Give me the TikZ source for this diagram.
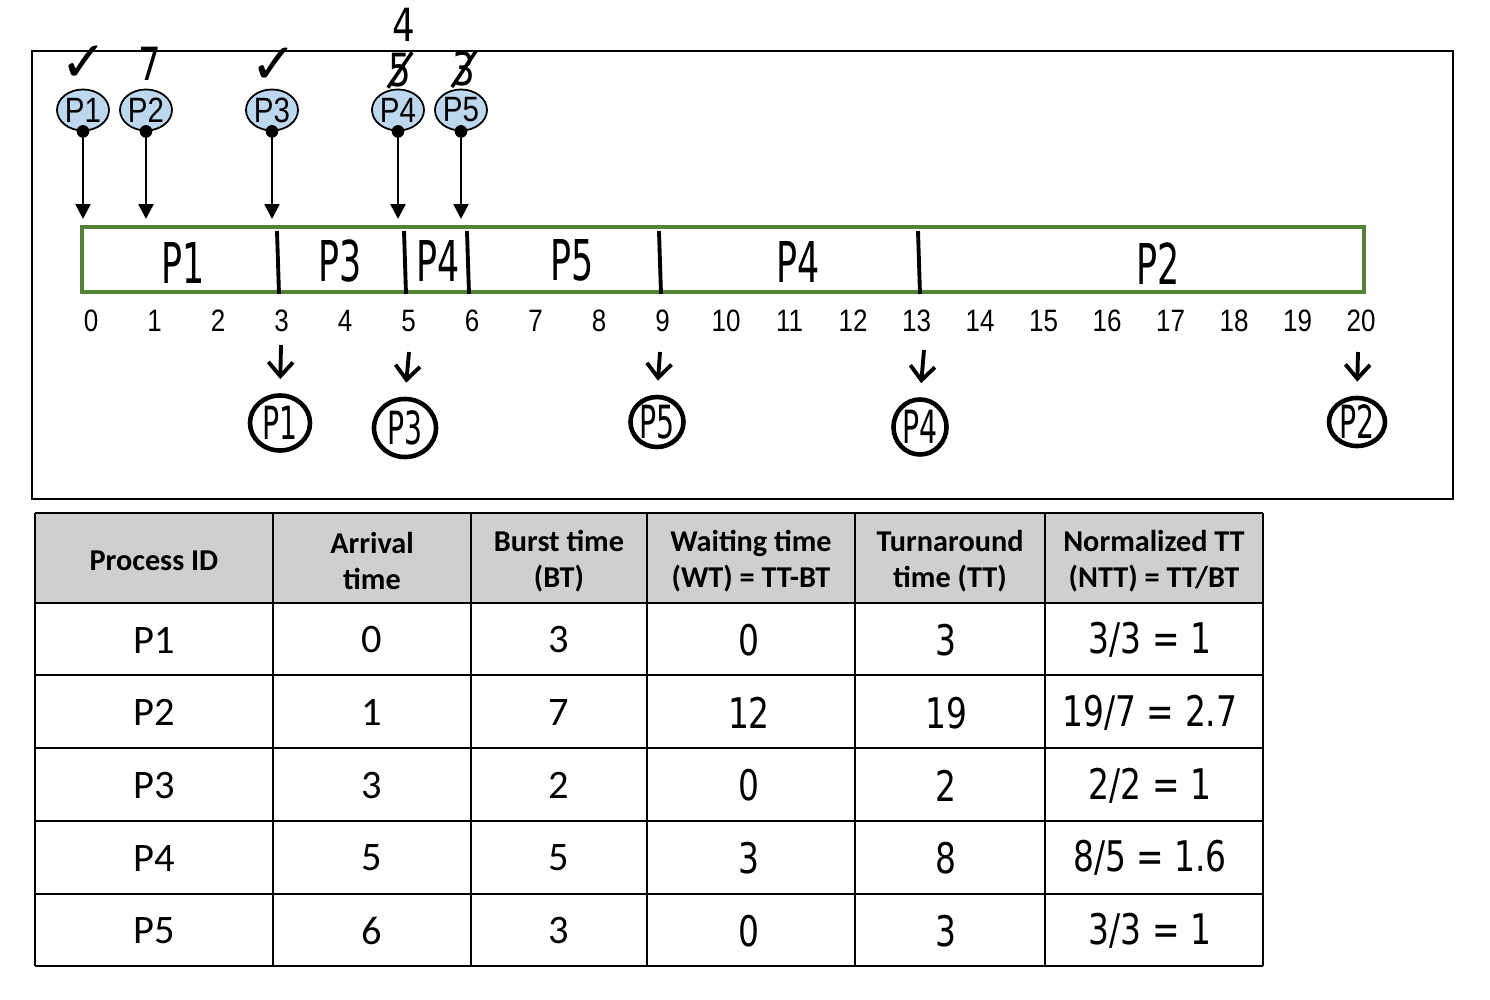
\documentclass[tikz,border=0pt]{standalone}
\usepackage{fontspec}
\setmainfont{Carlito}
\newfontfamily\arialfont{Liberation Sans}[FakeStretch=0.84]
\newfontfamily\handfont{DejaVu Sans}[FakeStretch=0.78]
\newfontfamily\narrowhand{DejaVu Sans}[FakeStretch=0.62]
\newfontfamily\symfont{DejaVu Sans}
\usetikzlibrary{calc,shapes,arrows,arrows.meta}
\definecolor{procblue}{HTML}{BDD7EE}
\definecolor{bargreen}{HTML}{548235}
\definecolor{headgray}{HTML}{D0CECE}

\begin{document}
\begin{tikzpicture}[x=0.01cm,y=-0.01cm,
    proc/.style={ellipse,draw,line width=0.5pt,fill=procblue,minimum width=0.52cm,
      minimum height=0.41cm,inner sep=0pt,font=\arialfont\fontsize{10}{10}\selectfont},
    hand/.style={font=\handfont\fontsize{13}{13}\selectfont,inner sep=0pt},
    slot/.style={font=\narrowhand\fontsize{16}{16}\selectfont,inner sep=0pt},
    handsmall/.style={font=\handfont\fontsize{12}{12}\selectfont,inner sep=1pt},
    done/.style={ellipse,draw,line width=1.3pt,minimum width=0.58cm,minimum height=0.53cm,
      inner sep=0pt,font=\narrowhand\fontsize{13}{13}\selectfont},
    head/.style={font=\bfseries\fontsize{8.6}{10.2}\selectfont,align=center},
    cell/.style={font=\fontsize{11.5}{11.5}\selectfont}]
  \useasboundingbox (0,0) rectangle (1490,1000);

  % frame of the timeline
  \draw[line width=0.6pt] (32,51) rectangle (1453,499);

  % arriving processes
  \foreach \n/\t in {1/0, 2/1, 3/3, 4/5, 5/6}
  {
    \node[proc] (p\n) at ({83+63*\t},110) {P\n};
    \coordinate (a\n) at ({83+63*\t},219);
    \draw[line width=0.7pt,-{Triangle[length=4.2pt,width=4.2pt]}] (p\n.south) -- (a\n);
    \fill (p\n.south) circle (1.8pt);
  }

  % remarks above the processes
  \node[font=\symfont\fontsize{16}{16}\selectfont,inner sep=0pt] (ok1) at (84,64) {✓};
  \node[font=\symfont\fontsize{16}{16}\selectfont,inner sep=0pt] (ok3) at (274,66) {✓};
  \node[hand] (r2) at (150,64) {7};
  \node[hand] (r4) at (400,70) {5};
  \draw[line width=1pt] (r4.south west) -- (r4.north east);
  \node[hand] (r4b) at (404,25) {4};
  \node[hand] (r5) at (464,69) {3};
  \draw[line width=1pt] (r5.south west) -- (r5.north east);

  % gantt chart
  \draw[bargreen,line width=0.9pt] (82,227) rectangle (1364,292);
  \foreach \x in {277, 404, 467, 659, 918}
    \draw[line width=1.1pt] (\x,231) -- (\x+2,294);
  \node[slot] (g1) at (183,263) {P1};
  \node[slot] (g3) at (340,261) {P3};
  \node[slot] (g4) at (438,261) {P4};
  \node[slot] (g5) at (572,260) {P5};
  \node[slot] (g4b) at (798,262) {P4};
  \node[slot] (g2) at (1158,264) {P2};

  \foreach \i in {0,...,20}
    \node[font=\arialfont\fontsize{8.8}{8.8}\selectfont] (t\i) at ({91+63.5*\i},321) {\i};

  % finished processes
  \node[done,minimum width=0.6cm,minimum height=0.55cm] (f1) at (280,423) {P1};
  \node[done,minimum width=0.62cm,minimum height=0.58cm] (f3) at (405,428) {P3};
  \node[done,minimum width=0.53cm,minimum height=0.5cm] (f5) at (657,422) {P5};
  \node[done,minimum width=0.53cm,minimum height=0.55cm] (f4) at (920,427) {P4};
  \node[done,minimum width=0.56cm,minimum height=0.48cm] (f2) at (1357,422) {P2};
  \foreach \f/\x/\y in {1/281/345, 3/409/352, 5/660/352, 4/924/350, 2/1358/352}
  {
    \coordinate (e\f) at (\x,\y);
    \draw[line width=1.1pt,-{Straight Barb[length=4pt,width=7pt]},shorten >=4pt] (e\f) -- (f\f.north);
  }

  % table
  \fill[headgray] (35,513) rectangle (1263,603);
  \foreach \y in {513, 603, 675, 748, 821, 894, 966}
    \draw[line width=0.8pt] (35,\y) -- (1263,\y);
  \foreach \x in {35, 273, 471, 647, 855, 1045, 1263}
    \draw[line width=0.8pt] (\x,513) -- (\x,966);

  \node[head] (h1) at (154,561) {Process ID};
  \node[head] (h2) at (372,561) {Arrival\\time};
  \node[head] (h3) at (559,561) {Burst time\\(BT)};
  \node[head] (h4) at (751,561) {Waiting time\\(WT) = TT-BT};
  \node[head] (h5) at (950,561) {Turnaround\\time (TT)};
  \node[head] (h6) at (1154,561) {Normalized TT\\(NTT) = TT/BT};

  \foreach \p/\a/\b/\w/\tt/\nt [count=\k] in
    {P1/0/3/0/3/{3/3 = 1}, P2/1/7/12/19/{19/7 = 2.7}, P3/3/2/0/2/{2/2 = 1},
     P4/5/5/3/8/{8/5 = 1.6}, P5/6/3/0/3/{3/3 = 1}}
  {
    \node[cell] (c\k a) at (154,{640+72.7*(\k-1)}) {\p};
    \node[cell] (c\k b) at (372,{640+72.7*(\k-1)}) {\a};
    \node[cell] (c\k c) at (559,{640+72.7*(\k-1)}) {\b};
    \node[handsmall] (c\k d) at (749,{640+72.7*(\k-1)}) {\w};
    \node[handsmall] (c\k e) at (946,{640+72.7*(\k-1)}) {\tt};
    \node[handsmall] (c\k f) at (1150,{640+72.7*(\k-1)}) {\nt};
  }
\end{tikzpicture}
\end{document}
